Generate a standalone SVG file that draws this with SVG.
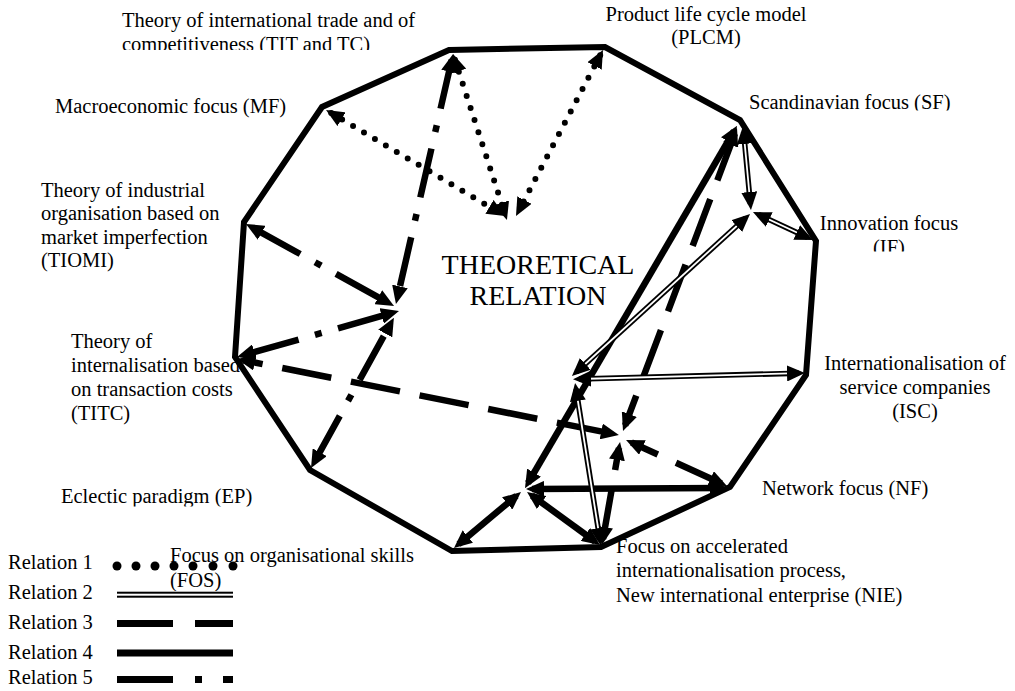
<svg xmlns="http://www.w3.org/2000/svg" width="1015" height="691" viewBox="0 0 1015 691">
<defs>
<style>
text{font-family:"Liberation Serif","Times New Roman",serif;font-size:20.5px;fill:#000}
.c{text-anchor:middle}
.big{font-size:28px}
.ln{fill:none;stroke:#000}
.bi{marker-start:url(#ah);marker-end:url(#ah)}
.r4{stroke-width:6.5}
.r1{stroke-width:6;stroke-linecap:round;stroke-dasharray:0 12.7}
.r3{stroke-width:6.5;stroke-dasharray:50 20}
.r5{stroke-width:6.5;stroke-dasharray:50 17 7 17}
.r2b{stroke-width:5.5}
.r2w{fill:none;stroke:#fff;stroke-width:1.8}
.ar{fill:none;stroke:none;marker-start:url(#ah);marker-end:url(#ah)}
</style>
<marker id="ah" viewBox="0 0 18 16" refX="12" refY="8" markerWidth="18" markerHeight="16" markerUnits="userSpaceOnUse" orient="auto-start-reverse">
<path d="M0,0 L18,8 L0,16 Z" fill="#000"/>
</marker>
<clipPath id="cTIT"><rect x="0" y="0" width="520" height="50"/></clipPath>
<clipPath id="cSF"><rect x="740" y="80" width="275" height="30.5"/></clipPath>
<clipPath id="cIF"><rect x="815" y="200" width="200" height="51.5"/></clipPath>
<clipPath id="cEP"><rect x="40" y="470" width="260" height="36.5"/></clipPath>
<clipPath id="cFOS"><rect x="160" y="530" width="300" height="61"/></clipPath>
</defs>

<g id="connectors">
<polygon class="ln" stroke-width="6" stroke-miterlimit="6" points="449,50 605,47 740,120 816,241 806,375 730,487 601,547 452,551 310,470 235,357 244,222 322,107"/>

<!-- Relation 1 dotted -->
<path class="ln r1 bi" d="M331.2,113.1 L499.8,212.9"/>
<path class="ln r1 bi" d="M454.9,59.7 L505.1,214.3"/>
<path class="ln r1 bi" d="M600.2,55.3 L518.8,210.7"/>

<!-- Relation 5 dash-dot -->
<path class="ln r5 bi" d="M451.7,59.9 L397.3,298.1"/>
<path class="ln r5 bi" d="M251.2,226.9 L388.8,303.1" stroke-dashoffset="-6"/>
<path class="ln r5 bi" d="M242.8,355.4 L393.2,312.6" stroke-dashoffset="-8"/>
<path class="ln r5 bi" d="M391,323 L313.9,462.8" stroke-dashoffset="76"/>

<!-- Relation 3 dashed -->
<path class="ln r3 bi" d="M243,360.2 L613,433.8" stroke-dashoffset="30"/>
<path class="ln r3 bi" d="M734.9,133.6 L625.1,425.4"/>
<path class="ln r3 bi" d="M721.5,483.5 L631.5,442.5"/>
<path class="ln r3 bi" d="M603,539 L619,448"/>

<!-- Relation 4 solid -->
<path class="ln r4 bi" d="M734,131 L528,483"/>
<path class="ln r4 bi" d="M458.6,544.2 L516.4,495.8"/>
<path class="ln r4 bi" d="M532,489 L722,488"/>
<path class="ln r4 bi" d="M531.9,495.5 L595.1,541.5"/>

<!-- Relation 2 double -->
<g id="rel2">
<path class="ln r2b" d="M743.6,132 L750.4,204"/>
<path class="ln r2b" d="M758.4,214.5 L807.6,237.5"/>
<path class="ln r2b" d="M576.4,372 L745.6,218"/>
<path class="ln r2b" d="M579,379 L799,373.2"/>
<path class="ln r2b" d="M576,389 L600,540"/>
<path class="r2w" d="M743.6,132 L750.4,204"/>
<path class="r2w" d="M758.4,214.5 L807.6,237.5"/>
<path class="r2w" d="M576.4,372 L745.6,218"/>
<path class="r2w" d="M579,379 L799,373.2"/>
<path class="r2w" d="M576,389 L600,540"/>
<path class="ar" d="M743.6,132 L750.4,204"/>
<path class="ar" d="M758.4,214.5 L807.6,237.5"/>
<path class="ar" d="M576.4,372 L745.6,218"/>
<path class="ar" d="M579,379 L799,373.2"/>
<path class="ar" d="M576,389 L600,540"/>
</g>
</g>

<g id="node-TIT"><g clip-path="url(#cTIT)"><text x="122" y="27">Theory of international trade and of</text><text x="122" y="51">competitiveness (TIT and TC)</text></g></g>
<g id="node-PLCM"><text class="c" x="706" y="21">Product life cycle model</text><text class="c" x="706" y="44">(PLCM)</text></g>
<g id="node-MF"><text x="55" y="113">Macroeconomic focus (MF)</text></g>
<g id="node-SF"><g clip-path="url(#cSF)"><text x="749" y="109">Scandinavian focus (SF)</text></g></g>
<g id="node-IF"><g clip-path="url(#cIF)"><text class="c" x="889" y="230">Innovation focus</text><text class="c" x="889" y="254">(IF)</text></g></g>
<g id="node-TIOMI"><text x="41" y="197">Theory of industrial</text><text x="41" y="220">organisation based on</text><text x="41" y="244">market imperfection</text><text x="41" y="267">(TIOMI)</text></g>
<g id="node-TITC"><text x="71" y="348">Theory of</text><text x="71" y="372">internalisation based</text><text x="71" y="396">on transaction costs</text><text x="71" y="420">(TITC)</text></g>
<g id="node-ISC"><text class="c" x="915" y="370">Internationalisation of</text><text class="c" x="915" y="394">service companies</text><text class="c" x="915" y="418">(ISC)</text></g>
<g id="node-NF"><text x="762" y="495">Network focus (NF)</text></g>
<g id="node-EP"><g clip-path="url(#cEP)"><text x="61" y="503">Eclectic paradigm (EP)</text></g></g>
<g id="node-NIE"><text x="616" y="553">Focus on accelerated</text><text x="616" y="577">internationalisation process,</text><text x="616" y="602">New international enterprise (NIE)</text></g>
<g id="node-FOS"><g clip-path="url(#cFOS)"><text x="170" y="562">Focus on organisational skills</text><text x="170" y="587">(FOS)</text></g></g>
<g id="center"><text class="c big" x="538" y="274">THEORETICAL</text><text class="c big" x="538" y="305">RELATION</text></g>

<g id="legend">
<text x="8" y="569">Relation 1</text>
<text x="8" y="599">Relation 2</text>
<text x="8" y="629">Relation 3</text>
<text x="8" y="659">Relation 4</text>
<text x="8" y="684">Relation 5</text>
<g fill="#000">
<circle cx="117" cy="566" r="4.5"/><circle cx="136" cy="566" r="4.5"/><circle cx="155" cy="566" r="4.5"/><circle cx="174" cy="566" r="4.5"/><circle cx="193" cy="566" r="4.5"/><circle cx="213" cy="566" r="4.5"/><circle cx="233" cy="566" r="4.5"/>
<rect x="117" y="591.7" width="116" height="2"/><rect x="117" y="595.7" width="116" height="2"/>
<rect x="117" y="620" width="56" height="7"/><rect x="195" y="620" width="38" height="7"/>
<rect x="117" y="649.5" width="116" height="7"/>
<rect x="117" y="676" width="56" height="7"/><rect x="195" y="676" width="7" height="7"/><rect x="223" y="676" width="10" height="7"/>
</g>
</g>
</svg>
